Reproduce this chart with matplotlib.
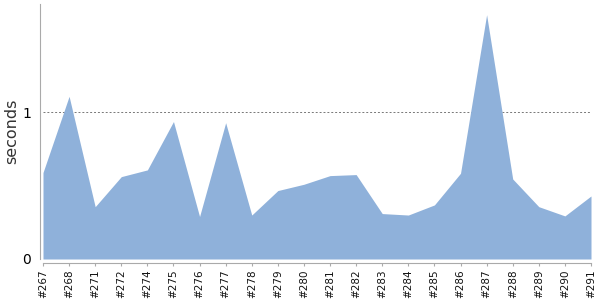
import matplotlib
matplotlib.use("Agg")
import matplotlib.pyplot as plt

builds = ["#267", "#268", "#271", "#272", "#274", "#275", "#276", "#277", "#278",
          "#279", "#280", "#281", "#282", "#283", "#284", "#285", "#286", "#287",
          "#288", "#289", "#290", "#291"]
seconds = [0.59, 1.11, 0.357, 0.562, 0.608, 0.938, 0.29, 0.93, 0.30,
           0.467, 0.51, 0.569, 0.576, 0.31, 0.30, 0.369, 0.585, 1.667,
           0.546, 0.357, 0.294, 0.43]
ytick_vals = [0, 1]

fig = plt.figure(figsize=(6, 3), dpi=100)
ax = fig.add_axes([43/600, 41/300, (591-43)/600, 255/300])
x = list(range(len(builds)))
ax.fill_between(x, 0, seconds, color="#8fb1da", linewidth=0)
ax.set_xlim(0, len(builds) - 1)
ax.set_ylim(0, 1.74)

ax.axhline(1, color="#777777", linewidth=0.7, linestyle=(0, (2, 2)), zorder=0)

ax.set_xticks(x)
ax.set_xticklabels(builds)
ax.set_yticks(ytick_vals)
ax.set_yticklabels([str(v) for v in ytick_vals], fontsize=9, color="#555555")
ax.tick_params(axis="x", direction="out", length=2.2, width=0.8, color="#aaaaaa",
               pad=2.5, labelrotation=90, labelsize=7.5, labelcolor="#111111")
ax.tick_params(axis="y", length=0, pad=6)

for s in ["top", "right"]:
    ax.spines[s].set_visible(False)
ax.spines["left"].set_position(("outward", 2.5))
ax.spines["bottom"].set_position(("outward", 3))
ax.spines["left"].set_color("#aaaaaa")
ax.spines["bottom"].set_color("#aaaaaa")
ax.spines["left"].set_linewidth(0.8)
ax.spines["bottom"].set_linewidth(0.8)

ax.set_ylabel("seconds", fontsize=11.5, color="#333333")
ax.yaxis.set_label_coords(-24/548, 0.5)

fig.savefig("out.png", dpi=100)
